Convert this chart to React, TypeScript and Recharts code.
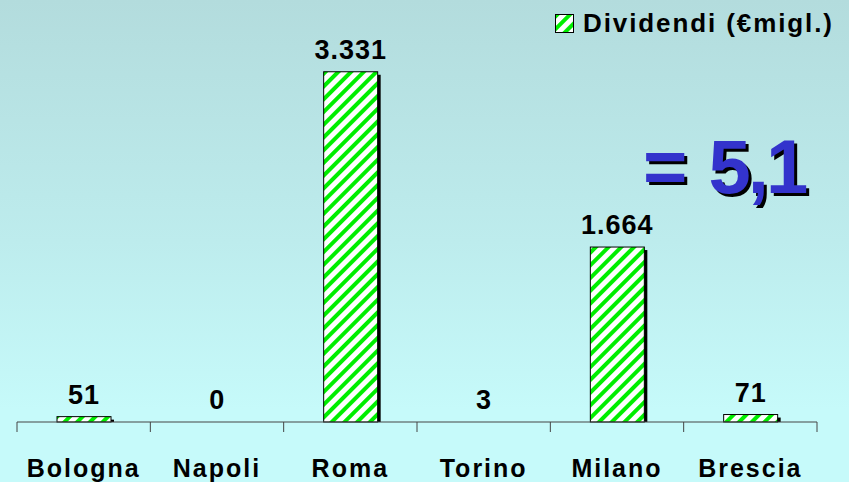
import React from 'react';
import { BarChart, Bar, XAxis, YAxis, LabelList, Legend } from 'recharts';

const cities = ['Bologna', 'Napoli', 'Roma', 'Torino', 'Milano', 'Brescia'];
const dividendi = [51, 0, 3331, 3, 1664, 71];
const valueLabels = ['51', '0', '3.331', '3', '1.664', '71'];

const seriesName = 'Dividendi (€migl.)';
const totalText = '= 5,1';

const data = cities.map((city, i) => ({
  city,
  value: dividendi[i],
  label: valueLabels[i],
}));

const FONT = 'Arial, "Liberation Sans", Helvetica, sans-serif';

// hatched bar with a small black drop shadow
const HatchedBar = (props: any) => {
  const { x, y, width, height } = props;
  if (!height || height < 0.5) return null;
  return (
    <g>
      <rect x={x + 3} y={y + 3} width={width} height={Math.max(height - 3, 0)} fill="#000" />
      <rect x={x} y={y} width={width} height={height} fill="url(#hatch)" stroke="#000" strokeWidth={1} />
    </g>
  );
};

const CityTick = (props: any) => {
  const { x, y, payload, index } = props;
  const half = payload?.offset ?? 800 / cities.length / 2;
  return (
    <g>
      <line x1={x - half} y1={y - 10} x2={x - half} y2={y} stroke="#444" />
      {index === cities.length - 1 && (
        <line x1={x + half} y1={y - 10} x2={x + half} y2={y} stroke="#444" />
      )}
      <text
        x={x}
        y={y + 45}
        textAnchor="middle"
        fontFamily={FONT}
        fontWeight="bold"
        fontSize={25}
        letterSpacing={2}
        fill="#000"
      >
        {payload.value}
      </text>
    </g>
  );
};

const LegendBox = () => (
  <div style={{ display: 'flex', alignItems: 'center', fontFamily: FONT, whiteSpace: 'nowrap' }}>
    <svg width={19} height={19} style={{ marginRight: 9 }}>
      <rect x={0.5} y={0.5} width={18} height={18} fill="url(#hatchSmall)" stroke="#000" />
    </svg>
    <span style={{ fontWeight: 'bold', fontSize: 26, letterSpacing: 1.9, color: '#000' }}>{seriesName}</span>
  </div>
);

export default function App() {
  return (
    <div
      style={{
        position: 'absolute',
        left: 0,
        top: 0,
        width: 849,
        height: 482,
        background: 'linear-gradient(to bottom, #b3dcdd 0%, #bdeced 50%, #c6fafa 85%, #c6fafa 100%)',
        overflow: 'hidden',
      }}
    >
      <svg width={0} height={0} style={{ position: 'absolute' }}>
        <defs>
          <pattern id="hatchSmall" width={9} height={9} patternUnits="userSpaceOnUse" patternTransform="rotate(45)">
            <rect width={9} height={9} fill="#fff" />
            <rect width={4} height={9} fill="#00ee00" />
          </pattern>
        </defs>
      </svg>
      <BarChart
        width={849}
        height={482}
        data={data}
        margin={{ top: 54, right: 32, bottom: 0, left: 17 }}
        barSize={54}
      >
        <defs>
          <pattern id="hatch" width={9} height={9} patternUnits="userSpaceOnUse" patternTransform="rotate(45)">
            <rect width={9} height={9} fill="#fff" />
            <rect width={4} height={9} fill="#00ee00" />
          </pattern>
        </defs>
        <YAxis hide domain={[0, 3500]} />
        <XAxis
          dataKey="city"
          height={60}
          axisLine={{ stroke: '#444' }}
          tickLine={false}
          tickSize={10}
          tickMargin={0}
          interval={0}
          tick={<CityTick />}
        />
        <Legend
          layout="horizontal"
          verticalAlign="middle"
          align="center"
          content={<LegendBox />}
          wrapperStyle={{ position: 'absolute', top: 8, left: 555, width: 'auto', height: 'auto' }}
        />
        <Bar dataKey="value" name={seriesName} shape={<HatchedBar />} isAnimationActive={false}>
          <LabelList
            dataKey="label"
            position="top"
            offset={13}
            fontFamily={FONT}
            fontWeight="bold"
            fontSize={27}
            letterSpacing={1}
            fill="#000"
          />
        </Bar>
      </BarChart>
      <div
        style={{
          position: 'absolute',
          left: 643,
          top: 127,
          fontFamily: FONT,
          fontWeight: 'bold',
          fontSize: 76,
          letterSpacing: -3,
          wordSpacing: 6,
          lineHeight: '80px',
          color: '#3333cc',
          textShadow: '3px 3px 0 #000',
          whiteSpace: 'nowrap',
        }}
      >
        {totalText}
      </div>
    </div>
  );
}
